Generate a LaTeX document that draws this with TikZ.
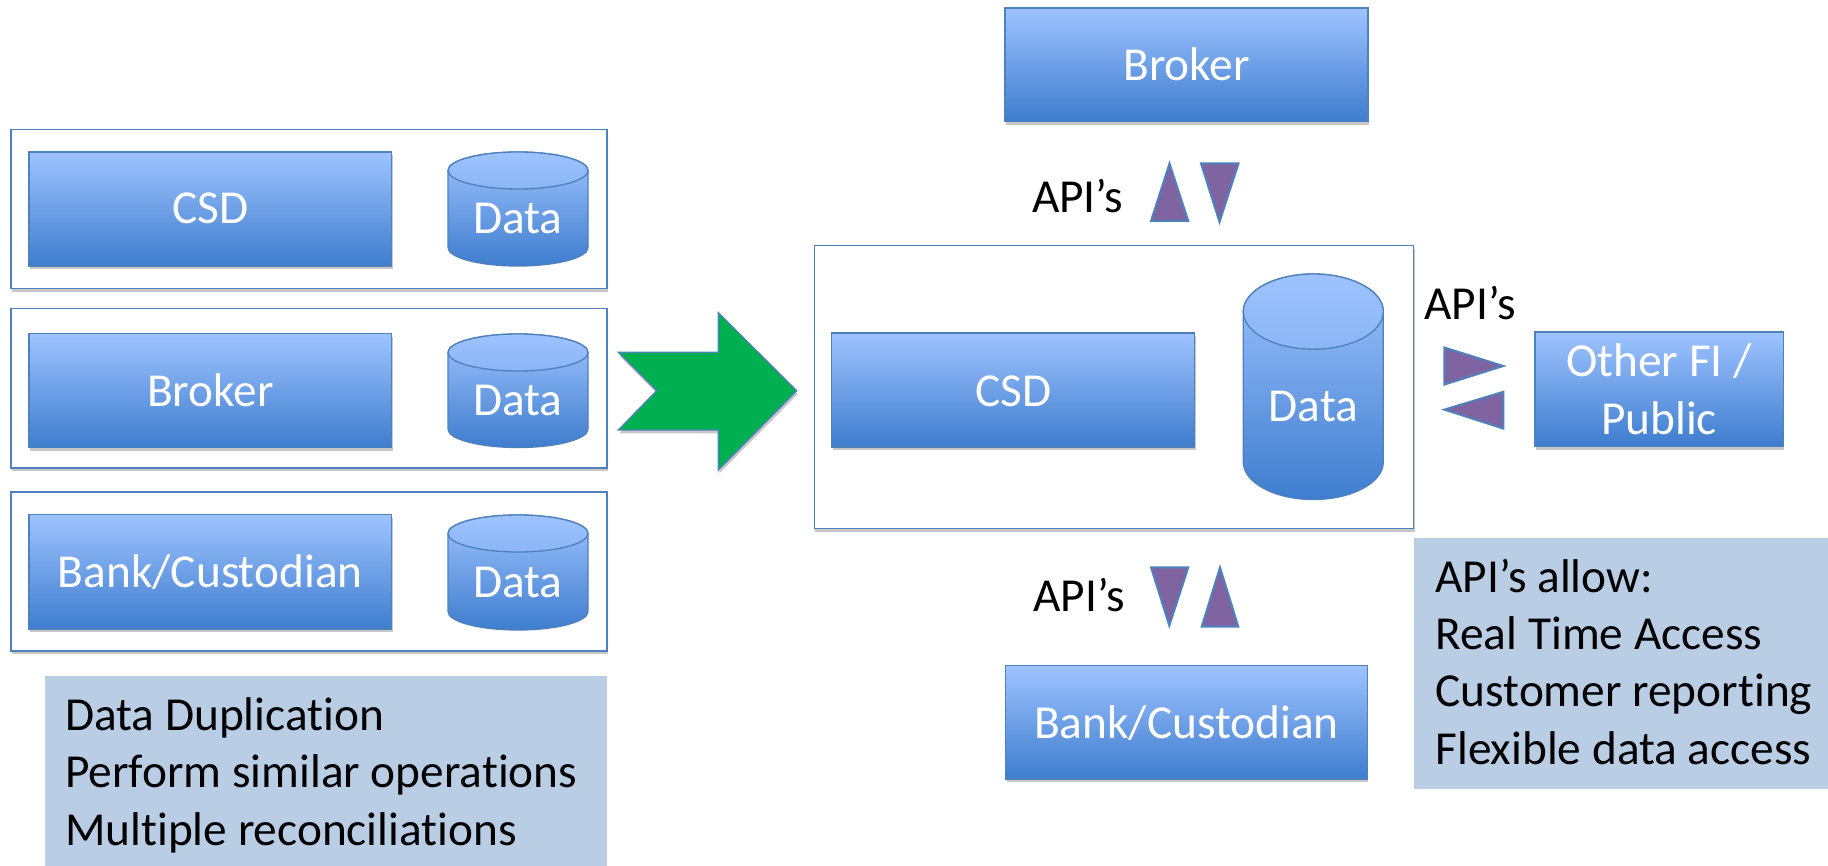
\documentclass[tikz,border=0pt]{standalone}
\usepackage{fontspec}
\setmainfont{Carlito}[Ligatures={NoCommon}]
\usetikzlibrary{shadows}

\definecolor{boxblue}{RGB}{79,129,189}
\definecolor{gradtop}{RGB}{158,195,255}
\definecolor{gradbot}{RGB}{62,125,206}
\definecolor{notefill}{RGB}{185,205,229}
\definecolor{apipurple}{RGB}{128,100,162}
\definecolor{arrowgreen}{RGB}{0,176,80}

\tikzset{every picture/.style={line width=0.75pt}}
\tikzset{
  softshadow/.style={drop shadow={shadow xshift=0.8pt,shadow yshift=-2.5pt,opacity=0.22,fill=black}},
  bluebox/.style={draw=boxblue,line width=1,top color=gradtop,bottom color=gradbot,softshadow},
  cylbody/.style={draw=boxblue,line width=1,top color=gradtop,bottom color=gradbot},
  cyltop/.style={draw=boxblue,line width=1,top color=gradtop,bottom color=gradtop!80!gradbot},
  framebox/.style={draw=boxblue,line width=1,fill=white,softshadow},
  notebox/.style={fill=notefill,draw=none},
  apitri/.style={draw=boxblue,line width=1.5,fill=apipurple,line join=miter},
  wlabel/.style={text=white,inner sep=0pt,text height=22pt,text depth=0pt},
  blabel/.style={text=black,inner sep=0pt},
  every node/.style={font=\fontsize{35.5}{43}\selectfont},
}

\begin{document}
\begin{tikzpicture}[x=0.75pt,y=0.75pt,yscale=-1,xscale=1]
\useasboundingbox (0,0) rectangle (1828,866);

%Shape: Rectangle (left frames)
\draw [framebox] (11,129.5) rectangle (607,288.5) ;
\draw [framebox] (11,308.6) rectangle (607,468) ;
\draw [framebox] (11,492) rectangle (607,651) ;

%Shape: Rectangle
\draw [bluebox] (29,152) rectangle (391.5,266) ;
\draw [bluebox] (29,333.6) rectangle (391.5,447.5) ;
\draw [bluebox] (29,514.6) rectangle (391.5,629) ;

%Shape: Can
\draw [cylbody] (448,170.5) -- (448,247.5) arc [start angle=180,end angle=0,x radius=70,y radius=18.5] -- (588,170.5) arc [start angle=0,end angle=-180,x radius=70,y radius=18.5] -- cycle ;
\draw [cyltop] (518,170.5) ellipse [x radius=70,y radius=18.5] ;
%Shape: Can
\draw [cylbody] (448,352.5) -- (448,429) arc [start angle=180,end angle=0,x radius=70,y radius=18.5] -- (588,352.5) arc [start angle=0,end angle=-180,x radius=70,y radius=18.5] -- cycle ;
\draw [cyltop] (518,352.5) ellipse [x radius=70,y radius=18.5] ;
%Shape: Can
\draw [cylbody] (448,533.5) -- (448,611.5) arc [start angle=180,end angle=0,x radius=70,y radius=18.5] -- (588,533.5) arc [start angle=0,end angle=-180,x radius=70,y radius=18.5] -- cycle ;
\draw [cyltop] (518,533.5) ellipse [x radius=70,y radius=18.5] ;

%Shape: Notched Right Arrow
\draw [draw=boxblue,line width=1,fill=arrowgreen,softshadow] (618.3,352.3) -- (718.3,352.3) -- (718.3,312.7) -- (796.7,390.7) -- (718.3,470) -- (718.3,430) -- (618.3,430) -- (656.7,390.7) -- cycle ;

%Shape: Rectangle (centre frame)
\draw [framebox] (814.4,245.7) rectangle (1413.8,528.6) ;
\draw [bluebox] (831.7,333) rectangle (1194.7,447) ;
%Shape: Can
\draw [cylbody] (1243.3,311.6) -- (1243.3,461.9) arc [start angle=180,end angle=0,x radius=70,y radius=37.6] -- (1383.3,311.6) arc [start angle=0,end angle=-180,x radius=70,y radius=37.6] -- cycle ;
\draw [cyltop] (1313.3,311.6) ellipse [x radius=70,y radius=37.6] ;

%Shape: Rectangle
\draw [bluebox] (1005,8) rectangle (1368,121.4) ;
\draw [bluebox] (1005.7,665.7) rectangle (1367.3,779) ;
\draw [bluebox] (1535,332) rectangle (1783.3,446.4) ;

%Shape: Triangle
\draw [apitri] (1151,221) -- (1188.3,221) -- (1169.5,163.5) -- cycle ;
\draw [apitri] (1201,163.5) -- (1238.5,163.5) -- (1219.5,222) -- cycle ;
\draw [apitri] (1444.3,347.5) -- (1444.3,384.6) -- (1503.3,366) -- cycle ;
\draw [apitri] (1503.3,391.8) -- (1503.3,428.6) -- (1444.3,409.6) -- cycle ;
\draw [apitri] (1151,567.3) -- (1188.3,567.3) -- (1169.3,625.7) -- cycle ;
\draw [apitri] (1201.7,626.7) -- (1238.3,626.7) -- (1220,567.3) -- cycle ;

%Shape: Rectangle (notes)
\draw [notebox] (44.6,676) rectangle (607,866) ;
\draw [notebox] (1414,538) rectangle (1828,789.3) ;

% Text Node
\draw (210.25,209) node [wlabel] (csdL) {CSD};
% Text Node
\draw (210.25,391.5) node [wlabel] (brokerL) {Broker};
% Text Node
\draw (210.25,572.5) node [wlabel] (bankL) {Bank/Custodian};
% Text Node
\draw (518,219) node [wlabel] (dataA) {Data};
% Text Node
\draw (518,401) node [wlabel] (dataB) {Data};
% Text Node
\draw (518,582.5) node [wlabel] (dataC) {Data};
% Text Node
\draw (1013.2,391.5) node [wlabel] (csdC) {CSD};
% Text Node
\draw (1313.3,406.7) node [wlabel] (dataBig) {Data};
% Text Node
\draw (1186.5,66) node [wlabel] (brokerT) {Broker};
% Text Node
\draw (1186.5,724) node [wlabel] (bankB) {Bank/Custodian};
% Text Node
\draw (1659,434) node [anchor=base,text=white,inner sep=0pt,align=center] (otherFI) {Other FI /\\Public};
% Text Node
\draw (1031.5,212.5) node [anchor=base west][blabel] (apiTop) {API’s};
% Text Node
\draw (1424,319.6) node [anchor=base west][blabel] (apiRight) {API’s};
% Text Node
\draw (1033,611.7) node [anchor=base west][blabel] (apiBottom) {API’s};
% Text Node
\draw (64.7,845) node [anchor=base west][blabel,align=left] (noteL) {Data Duplication\\Perform similar operations\\Multiple reconciliations};
% Text Node
\draw (1435,764) node [anchor=base west][blabel,align=left] (noteR) {API’s allow:\\Real Time Access\\Customer reporting\\Flexible data access};

\end{tikzpicture}
\end{document}
